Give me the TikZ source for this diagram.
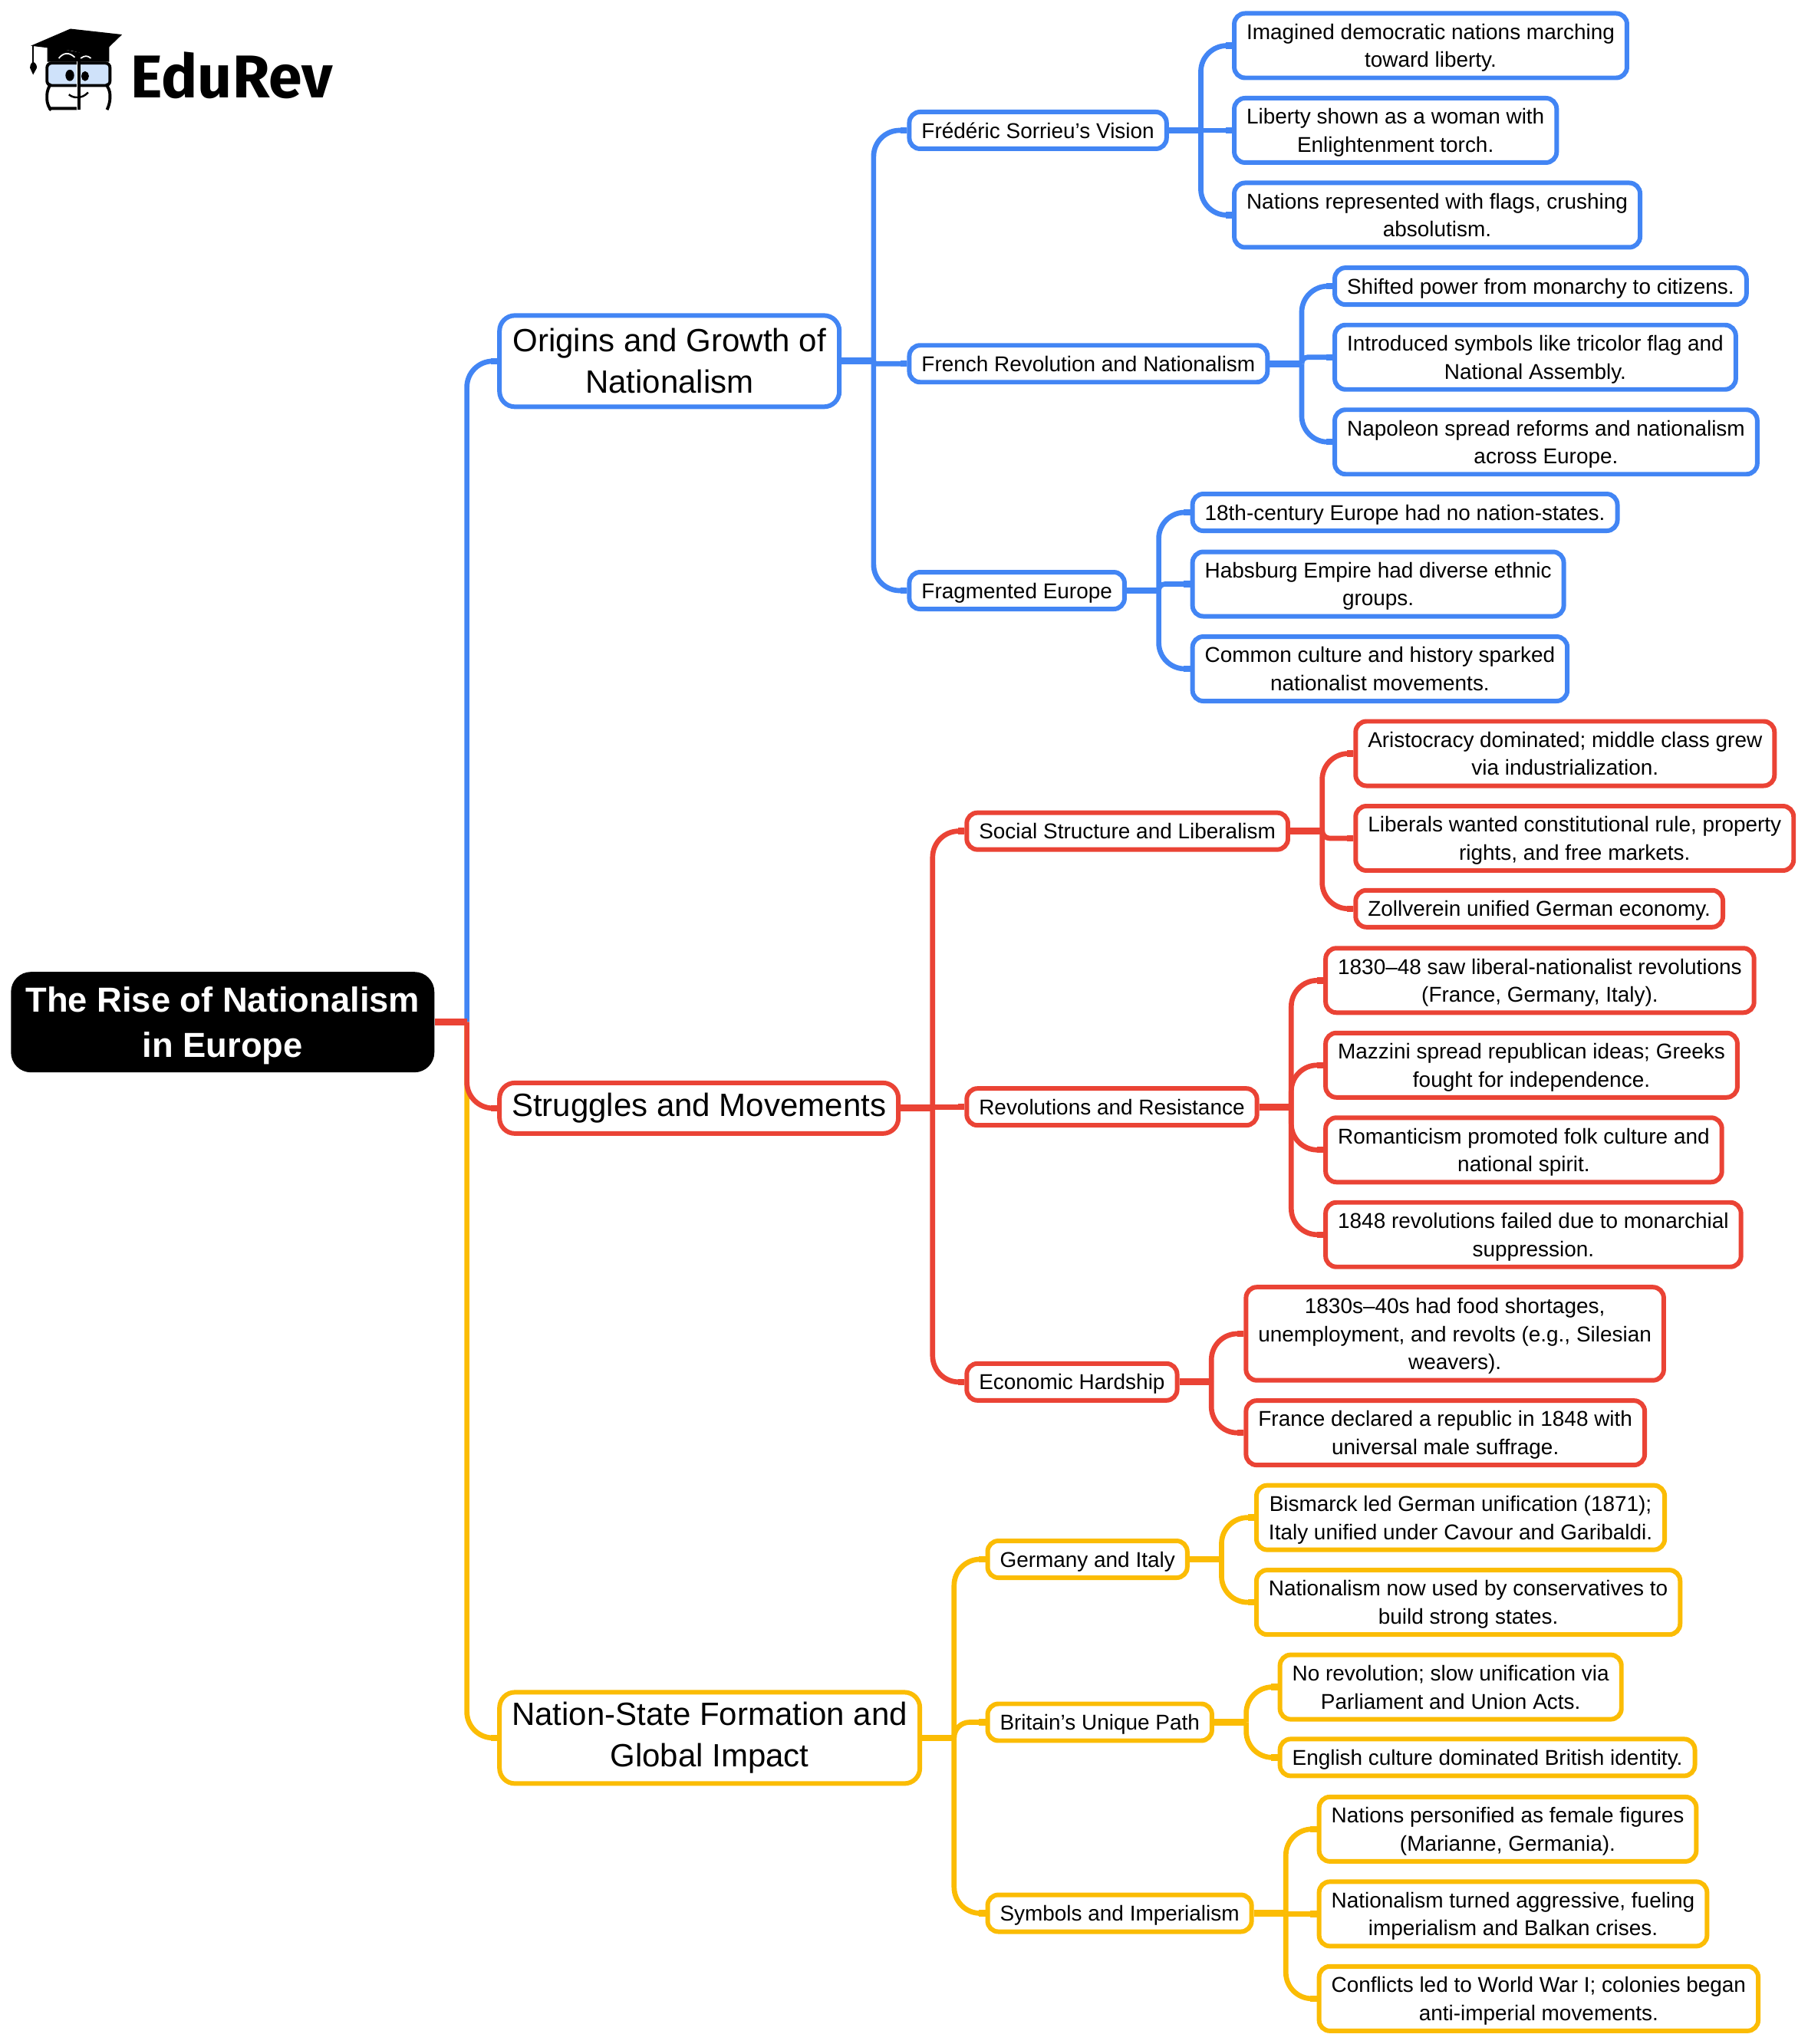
\documentclass[tikz,border=0pt]{standalone}
\usepackage{fontspec}
\setmainfont{Liberation Sans}
\newfontfamily\logofont{Fira Sans}
\definecolor{mapblue}{HTML}{4285F4}
\definecolor{mapred}{HTML}{EA4335}
\definecolor{mapyellow}{HTML}{FBBC04}
\definecolor{lensblue}{HTML}{CFE2FA}
\tikzset{
	rootbox/.style={fill=black, text=white, rounded corners=0.26cm, anchor=west, align=center, inner xsep=0.19cm, inner ysep=0pt, minimum height=1.31cm, text depth=0pt, font=\fontsize{12.9}{16.9}\selectfont\bfseries},
	mainbox/.style={draw=#1, fill=white, line width=1.7pt, rounded corners=0.2cm, anchor=west, align=center, inner xsep=0.16cm, inner ysep=0pt, font=\fontsize{11.95}{15.4}\selectfont},
	leafbox/.style={draw=#1, fill=white, line width=1.7pt, rounded corners=0.14cm, anchor=west, align=center, inner xsep=0.16cm, inner ysep=0pt, minimum height=0.48cm, text depth=0pt, font=\fontsize{7.95}{10.4}\selectfont},
	twolines/.style={minimum height=0.84cm},
	threelines/.style={minimum height=1.215cm}
}
\def\branch[#1](#2)(#3){
	\draw[color=#1, line width=2.5pt] (#2.east) -- ++(24.5,0) coordinate (trunk);
	\foreach \kid/\rad in {#3} {
		\draw[color=#1, line width=1.9pt, rounded corners=\rad cm] (trunk) |- (\kid.west);
		\draw[color=#1, line width=2.4pt] (\kid.west) -- ++(-5,0);
	}
}

\begin{document}
\begin{tikzpicture}[x=0.01702cm, y=-0.016998cm]
	\useasboundingbox (0,0) rectangle (1385,1567.8);

	% logo
	\draw[fill=black] (36.7,36) -- (36.7,47) -- (83.2,47) -- (83.2,36) -- (75.3,43.5) -- cycle;
	\draw[fill=black] (25.2,34.9) -- (54,22.5) -- (92.6,26.8) -- (75.3,43.5) -- (55,38.5) -- cycle;
	\draw[white, line width=0.5pt] (45,44.7) .. controls (49,40) and (53,40) .. (57.3,44);
	\draw[white, line width=0.5pt] (61.8,44.7) .. controls (65,42.5) and (67,42.5) .. (69.7,44.7);
	\draw[line width=0.5pt] (25.2,34.9) -- (25.2,49);
	\draw[fill=black] (23.4,52) .. controls (23.4,50) and (24.6,48) .. (25.4,48) .. controls (26.4,48) and (28.2,50.5) .. (27.8,52) -- (25.4,56.4) -- cycle;
	\draw[fill=lensblue, line width=1.1pt, rounded corners=0.06cm] (36,48.4) rectangle (84.3,65.6);
	\draw[line width=1.1pt, rounded corners=0.08cm] (38,83.2) -- (36,81) -- (36,68) -- (38,65.6) (59,83.2) -- (38,83.2) (82,65.6) -- (84.3,68) -- (84.3,80) -- (82.5,83.2);
	\draw[white, line width=1.2pt] (59.8,47) -- (59.8,84);
	\draw[line width=1.1pt] (60.4,47) -- (60.4,84);
	\draw[fill=black] (53.5,57.8) ellipse (2.9 and 3.9);
	\draw[fill=black] (65.2,58.4) ellipse (2.5 and 3.3);
	\draw[line width=0.7pt] (52.8,72.5) .. controls (56,75.5) and (63,76) .. (67.5,70.9);
	\node[anchor=west, inner sep=0pt, font=\logofont\bfseries\fontsize{22.4}{22.4}\selectfont] (logo) at (100,58) {EduRev};

	% main topics
	\node[rootbox] (root) at (8,784) {The Rise of Nationalism\\in Europe};
	\node[mainbox=mapblue, minimum height=1.19cm, minimum width=4.43cm] (origins) at (381,277) {Origins and Growth of\\Nationalism};
	\node[mainbox=mapred, minimum height=0.66cm] (struggles) at (381,850) {Struggles and Movements};
	\node[mainbox=mapyellow, minimum height=1.19cm] (nationstate) at (381,1333) {Nation-State Formation and\\Global Impact};

	% blue side
	\node[leafbox=mapblue] (sorrieu) at (695,100) {Frédéric Sorrieu’s Vision};
	\node[leafbox=mapblue] (french) at (695,279) {French Revolution and Nationalism};
	\node[leafbox=mapblue] (fragmented) at (695,453) {Fragmented Europe};
	\node[leafbox=mapblue, twolines] (marching) at (944,35) {Imagined democratic nations marching\\toward liberty.};
	\node[leafbox=mapblue, twolines] (torch) at (944,100) {Liberty shown as a woman with\\Enlightenment torch.};
	\node[leafbox=mapblue, twolines] (flags) at (944,165) {Nations represented with flags, crushing\\absolutism.};
	\node[leafbox=mapblue] (citizens) at (1021,219.5) {Shifted power from monarchy to citizens.};
	\node[leafbox=mapblue, twolines] (tricolor) at (1021,274) {Introduced symbols like tricolor flag and\\National Assembly.};
	\node[leafbox=mapblue, twolines] (napoleon) at (1021,339) {Napoleon spread reforms and nationalism\\across Europe.};
	\node[leafbox=mapblue] (nostates) at (912,393) {18th-century Europe had no nation-states.};
	\node[leafbox=mapblue, twolines] (habsburg) at (912,448) {Habsburg Empire had diverse ethnic\\groups.};
	\node[leafbox=mapblue, twolines] (culture) at (912,513) {Common culture and history sparked\\nationalist movements.};

	% red side
	\node[leafbox=mapred] (social) at (739,637.5) {Social Structure and Liberalism};
	\node[leafbox=mapred] (revolutions) at (739,849) {Revolutions and Resistance};
	\node[leafbox=mapred] (hardship) at (739,1060) {Economic Hardship};
	\node[leafbox=mapred, twolines] (aristocracy) at (1037,578) {Aristocracy dominated; middle class grew\\via industrialization.};
	\node[leafbox=mapred, twolines] (liberals) at (1037,643) {Liberals wanted constitutional rule, property\\rights, and free markets.};
	\node[leafbox=mapred] (zollverein) at (1037,697) {Zollverein unified German economy.};
	\node[leafbox=mapred, twolines] (uprisings) at (1014,752) {1830–48 saw liberal-nationalist revolutions\\(France, Germany, Italy).};
	\node[leafbox=mapred, twolines] (mazzini) at (1014,817) {Mazzini spread republican ideas; Greeks\\fought for independence.};
	\node[leafbox=mapred, twolines] (romanticism) at (1014,882) {Romanticism promoted folk culture and\\national spirit.};
	\node[leafbox=mapred, twolines] (failed) at (1014,947) {1848 revolutions failed due to monarchial\\suppression.};
	\node[leafbox=mapred, threelines] (shortages) at (953,1023) {1830s–40s had food shortages,\\unemployment, and revolts (e.g., Silesian\\weavers).};
	\node[leafbox=mapred, twolines] (republic) at (953,1099) {France declared a republic in 1848 with\\universal male suffrage.};

	% yellow side
	\node[leafbox=mapyellow] (germany) at (755,1196) {Germany and Italy};
	\node[leafbox=mapyellow] (britain) at (755,1321) {Britain’s Unique Path};
	\node[leafbox=mapyellow] (symbols) at (755,1467.5) {Symbols and Imperialism};
	\node[leafbox=mapyellow, twolines] (bismarck) at (961,1164) {Bismarck led German unification (1871);\\Italy unified under Cavour and Garibaldi.};
	\node[leafbox=mapyellow, twolines] (conservatives) at (961,1229) {Nationalism now used by conservatives to\\build strong states.};
	\node[leafbox=mapyellow, twolines] (parliament) at (979,1294) {No revolution; slow unification via\\Parliament and Union Acts.};
	\node[leafbox=mapyellow] (english) at (979,1348) {English culture dominated British identity.};
	\node[leafbox=mapyellow, twolines] (marianne) at (1009,1403) {Nations personified as female figures\\(Marianne, Germania).};
	\node[leafbox=mapyellow, twolines] (balkan) at (1009,1468) {Nationalism turned aggressive, fueling\\imperialism and Balkan crises.};
	\node[leafbox=mapyellow, twolines] (worldwar) at (1009,1533) {Conflicts led to World War I; colonies began\\anti-imperial movements.};

	% connectors
	\branch[mapblue](root)(origins/.34)
	\branch[mapyellow](root)(nationstate/.34)
	\branch[mapred](root)(struggles/.34)

	\branch[mapblue](origins)(sorrieu/.34,french/.03,fragmented/.34)
	\branch[mapblue](sorrieu)(marching/.34,torch/0,flags/.34)
	\branch[mapblue](french)(citizens/.34,tricolor/.08,napoleon/.34)
	\branch[mapblue](fragmented)(nostates/.34,habsburg/.08,culture/.34)

	\branch[mapred](struggles)(social/.34,revolutions/0,hardship/.34)
	\branch[mapred](social)(aristocracy/.34,liberals/.1,zollverein/.34)
	\branch[mapred](revolutions)(uprisings/.34,mazzini/.34,romanticism/.34,failed/.34)
	\branch[mapred](hardship)(shortages/.34,republic/.34)

	\branch[mapyellow](nationstate)(germany/.34,britain/.2,symbols/.34)
	\branch[mapyellow](germany)(bismarck/.34,conservatives/.34)
	\branch[mapyellow](britain)(parliament/.34,english/.34)
	\branch[mapyellow](symbols)(marianne/.34,balkan/0,worldwar/.34)
\end{tikzpicture}
\end{document}
